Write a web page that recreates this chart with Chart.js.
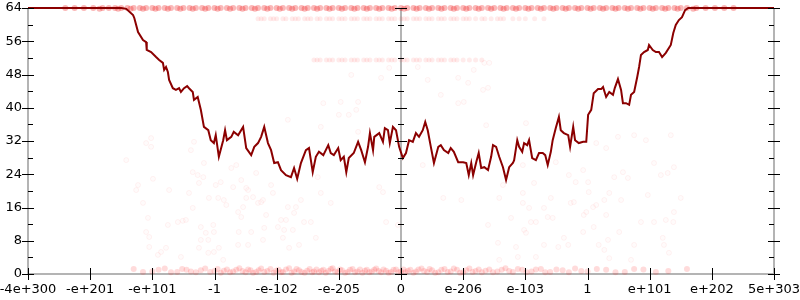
<!DOCTYPE html>
<html>
<head>
<meta charset="utf-8">
<script src="https://cdn.jsdelivr.net/npm/chart.js@4.4.0/dist/chart.umd.min.js"></script>
<style>
  html, body { margin: 0; padding: 0; background: #fff; }
  #wrap { width: 800px; height: 300px; }
</style>
</head>
<body>
<div id="wrap"><canvas id="chart" width="800" height="300"></canvas></div>
<script>
// Axis ticks (x positions are tick slots of the warped scale)
const xTickValues = [-6, -5, -4, -3, -2, -1, 0, 1, 2, 3, 4, 5, 6];
const xTickLabels = ['-4e+300', '-e+201', '-e+101', '-1', '-e-102', '-e-205', '0', 'e-206', 'e-103', '1', 'e+101', 'e+202', '5e+303'];
const yTickValues = [0, 8, 16, 24, 32, 40, 48, 56, 64];
const yMinorTicks = [4, 12, 20, 28, 36, 44, 52, 60];
const verticalAxes = [-6, 0, 6];

// Main curve
const lineX = [-6,-4.58,-4.50,-4.42,-4.31,-4.29,-4.23,-4.15,-4.10,-4.09,
  -4.02,-3.94,-3.89,-3.83,-3.81,-3.78,-3.75,-3.73,-3.67,-3.62,
  -3.57,-3.54,-3.49,-3.44,-3.41,-3.35,-3.33,-3.27,-3.22,-3.17,
  -3.10,-3.06,-3.01,-2.98,-2.93,-2.86,-2.83,-2.80,-2.73,-2.69,
  -2.62,-2.54,-2.49,-2.41,-2.36,-2.30,-2.25,-2.20,-2.14,-2.09,
  -2.04,-1.98,-1.93,-1.85,-1.77,-1.72,-1.67,-1.61,-1.53,-1.48,
  -1.42,-1.37,-1.32,-1.25,-1.17,-1.13,-1.08,-1.01,-0.97,-0.92,
  -0.88,-0.84,-0.76,-0.69,-0.64,-0.58,-0.53,-0.50,-0.45,-0.43,
  -0.35,-0.29,-0.26,-0.21,-0.18,-0.13,-0.08,-0.03,0.03,0.08,
  0.13,0.19,0.24,0.29,0.35,0.39,0.43,0.48,0.53,0.60,
  0.64,0.69,0.76,0.80,0.85,0.92,1.00,1.05,1.09,1.13,
  1.16,1.21,1.25,1.29,1.34,1.40,1.45,1.48,1.53,1.58,
  1.64,1.69,1.74,1.80,1.82,1.87,1.90,1.95,1.98,2.03,
  2.06,2.11,2.17,2.22,2.28,2.32,2.36,2.41,2.44,2.49,
  2.54,2.57,2.62,2.69,2.72,2.77,2.80,2.86,2.93,2.98,
  3.01,3.06,3.10,3.17,3.22,3.25,3.30,3.35,3.41,3.44,
  3.49,3.54,3.57,3.62,3.67,3.70,3.75,3.80,3.83,3.86,
  3.91,3.97,3.99,4.05,4.10,4.15,4.20,4.26,4.34,4.38,
  4.42,4.47,4.52,4.57,4.62,6];
const lineY = [64,64,64,63.8,62.3,61.6,58.2,56.3,55.8,53.9,
  53.4,52.2,51.5,50.8,49.1,49.8,48.6,46.7,44.7,44.3,
  44.7,43.8,44.7,45.2,44.7,43.8,41.9,42.6,39.5,35.4,
  34.6,32.2,31.5,33.4,28.2,32.2,34.6,32.2,33.0,34.2,
  33.4,35.4,30.3,28.6,30.6,31.5,33.0,35.4,31.5,29.8,
  26.7,26.9,25.0,23.8,23.3,25.5,22.9,26.7,29.8,30.3,
  24.5,28.2,29.4,28.6,31.0,29.1,28.6,30.3,27.4,28.2,
  24.5,27.9,29.1,31.8,29.8,26.9,30.6,33.9,29.8,33.0,
  33.9,31.8,35.1,34.6,31.5,35.4,34.6,30.6,27.9,29.1,
  32.2,31.8,33.9,33.0,34.6,36.6,34.6,30.6,26.7,30.6,
  31.0,29.8,29.1,30.3,29.4,26.9,26.9,26.7,23.8,26.7,
  23.8,26.9,29.1,25.5,25.7,25.0,28.2,31.0,30.6,28.2,
  25.7,22.6,25.7,26.7,27.4,32.2,30.6,29.4,31.5,31.0,
  32.2,27.9,27.4,29.1,29.1,28.6,26.2,29.4,32.2,35.1,
  37.8,34.6,33.9,33.4,30.6,35.4,32.2,31.5,31.8,31.8,
  38.3,39.5,43.5,44.5,44.5,45.0,42.6,43.8,43.1,44.8,
  46.9,44.3,41.1,41.1,40.7,43.1,43.8,47.4,49.8,52.7,
  53.4,53.9,55.1,53.9,53.4,53.4,52.2,53.2,55.1,58.0,
  59.9,61.1,61.8,63.5,64,64];

// Dense rows of samples
const band64X = [-5.4,-5.25,-5.1,-4.95,-4.8,-4.7,-4.6,-4.5,-4.4,-4.3,-4.2,-4.1,-4.0,-3.9,-3.8,-3.7,-3.6,-3.5,-3.4,-3.3,-3.2,-3.1,-3.0,-2.9,-2.8,-2.7,-2.6,-2.5,-2.4,-2.3,-2.2,-2.1,-2.0,-1.9,-1.8,-1.7,-1.6,-1.5,-1.4,-1.3,-1.2,-1.1,-1.0,-0.9,-0.8,-0.7,-0.6,-0.5,-0.4,-0.3,-0.2,-0.1,0,0.1,0.2,0.3,0.4,0.5,0.6,0.7,0.8,0.9,1.0,1.1,1.2,1.3,1.4,1.5,1.6,1.7,1.8,1.9,2.0,2.1,2.2,2.3,2.4,2.5,2.6,2.7,2.8,2.9,3.0,3.1,3.2,3.3,3.4,3.5,3.6,3.7,3.8,3.9,4.0,4.1,4.2,4.3,4.4,4.5,4.6,4.75,4.9,5.05,5.2,5.35];
const band64X2 = [-4.85,-4.55,-4.35,-4.15,-3.95,-3.75,-3.55,-3.35,-3.15,-2.95,-2.75,-2.55,-2.35,-2.15,-1.95,-1.75,-1.55,-1.35,-1.15,-0.95,-0.75,-0.55,-0.35,-0.15,0.05,0.25,0.45,0.65,0.85,1.05,1.25,1.45,1.65,1.85,2.05,2.25,2.45,2.65,2.85,3.05,3.25,3.45,3.65,3.85,4.05,4.25,4.45,4.7];
const band61X = [-2.3,-2.25,-2.2,-2.1,-2.05,-2.0,-1.9,-1.85,-1.75,-1.7,-1.65,-1.55,-1.5,-1.45,-1.35,-1.3,-1.2,-1.15,-1.1,-1.0,-0.95,-0.9,-0.8,-0.75,-0.7,-0.6,-0.55,-0.5,-0.4,-0.35,-0.3,-0.2,-0.15,-0.1,0,0.05,0.1,0.2,0.25,0.3,0.4,0.45,0.5,0.6,0.65,0.7,0.8,0.85,0.9,1.0,1.05,1.1,1.2,1.3,1.35,1.45,1.55,1.6,1.65,1.8,1.9,2.0,2.15,2.3];
const band51X = [-1.4,-1.35,-1.3,-1.2,-1.15,-1.1,-1.0,-0.95,-0.9,-0.8,-0.75,-0.7,-0.6,-0.55,-0.5,-0.4,-0.35,-0.3,-0.2,-0.15,-0.1,0,0.05,0.1,0.2,0.25,0.3,0.4,0.45,0.5,0.6,0.65,0.7,0.8,0.85,0.9,1.0,1.1,1.2,1.3];
const bandBottom = [[-4.3,1.2],[-4.15,0.5],[-4.0,0.6],[-3.9,1.0],[-3.8,1.3],[-3.7,0.4],[-3.6,0.5],[-3.52,1.2],[-3.45,1.0],[-3.38,0.6],[-3.3,0.4],[-3.22,0.9],[-3.15,1.3],[-3.07,0.5],[-3.0,0.7],[-2.95,1.2],[-2.9,0.3],[-2.85,0.8],[-2.8,1.1],[-2.75,0.4],[-2.7,0.6],[-2.65,1.0],[-2.6,1.4],[-2.55,0.7],[-2.5,0.4],[-2.46,1.1],[-2.42,0.9],[-2.38,0.3],[-2.33,0.5],[-2.29,0.9],[-2.25,1.3],[-2.2,0.5],[-2.15,0.7],[-2.1,1.2],[-2.05,0.3],[-2.01,0.8],[-1.97,1.0],[-1.93,0.4],[-1.9,0.5],[-1.85,1.1],[-1.8,1.4],[-1.76,0.3],[-1.72,0.6],[-1.68,1.2],[-1.64,0.9],[-1.6,0.5],[-1.55,0.3],[-1.51,0.8],[-1.47,1.2],[-1.43,0.4],[-1.4,0.6],[-1.36,1.1],[-1.32,0.4],[-1.28,0.8],[-1.25,1.0],[-1.21,0.3],[-1.17,0.7],[-1.13,1.2],[-1.1,1.4],[-1.06,0.6],[-1.02,0.4],[-0.98,1.1],[-0.95,0.9],[-0.9,0.3],[-0.86,0.5],[-0.82,1.0],[-0.78,1.2],[-0.74,0.4],[-0.7,0.6],[-0.66,1.1],[-0.62,0.3],[-0.58,0.8],[-0.55,1.0],[-0.51,0.4],[-0.47,0.6],[-0.43,1.0],[-0.4,1.3],[-0.36,0.7],[-0.32,0.4],[-0.28,1.1],[-0.24,0.8],[-0.2,0.3],[-0.16,0.5],[-0.12,1.0],[-0.08,1.1],[-0.04,0.4],[0,0.6],[0.04,1.1],[0.07,0.4],[0.11,0.8],[0.15,1.0],[0.2,0.3],[0.24,0.6],[0.28,1.1],[0.33,1.3],[0.37,0.7],[0.42,0.5],[0.46,1.2],[0.5,0.9],[0.55,0.3],[0.6,0.4],[0.65,1.0],[0.7,1.2],[0.75,0.5],[0.8,0.6],[0.85,1.3],[0.9,1.0],[0.95,0.3],[1.0,0.4],[1.05,0.9],[1.1,1.3],[1.15,0.5],[1.2,0.7],[1.25,1.1],[1.3,0.4],[1.36,0.8],[1.42,1.1],[1.48,0.4],[1.55,0.6],[1.62,1.0],[1.68,1.4],[1.74,0.7],[1.8,0.5],[1.88,1.2],[1.95,1.0],[2.02,0.4],[2.1,0.6],[2.17,1.1],[2.25,1.2],[2.32,0.4],[2.4,0.5],[2.5,1.1],[2.6,0.9],[2.7,0.4],[2.8,1.3],[2.9,0.7],[3.0,0.6],[3.15,1.2],[3.3,1.0],[3.45,0.4],[3.6,0.5],[3.75,1.2],[3.9,1.1],[4.1,0.5],[4.3,0.7],[4.6,1.2]];

// Sparse faint samples
const scatterPts = [[-4.26,20.2],[-4.23,21.4],[-4.15,17.1],[-4.07,13.5],[-4.10,10.1],[-4.05,8.9],[-4.05,6.5],[-3.99,22.9],[-3.91,4.6],[-3.86,5.3],
  [-3.78,6.3],[-3.75,11.8],[-3.73,20.2],[-3.59,12.5],[-3.51,12.8],[-3.46,13.0],[-3.54,4.1],[-3.41,19.5],[-3.35,24.5],[-3.35,15.9],
  [-3.27,23.8],[-3.25,21.9],[-3.22,11.3],[-3.22,8.2],[-3.25,6.3],[-3.17,26.7],[-3.18,23.3],[-3.14,9.9],[-3.10,8.2],[-3.02,11.8],
  [-3.01,10.1],[-3.09,18.3],[-2.98,21.4],[-2.94,18.3],[-2.90,22.1],[-2.85,17.8],[-2.81,16.6],[-3.01,5.3],[-2.93,6.3],[-3.10,5.1],
  [-2.86,3.4],[-2.73,25.5],[-2.70,20.9],[-2.65,26.2],[-2.62,14.9],[-2.62,7.0],[-2.61,10.1],[-2.57,13.7],[-2.57,22.6],[-2.54,16.1],
  [-2.49,20.7],[-2.46,20.2],[-2.49,18.3],[-2.46,7.0],[-2.41,10.1],[-2.38,18.5],[-2.33,24.3],[-2.30,17.1],[-2.25,17.3],[-2.22,17.8],
  [-2.22,8.2],[-2.20,11.1],[-2.17,14.2],[-2.09,21.4],[-2.06,19.5],[-1.98,11.3],[-1.93,13.0],[-1.90,8.7],[-1.88,10.6],[-1.85,13.0],
  [-1.82,16.1],[-1.80,6.3],[-1.74,10.6],[-1.69,16.1],[-1.72,14.7],[-1.64,7.0],[-1.61,17.8],[-1.56,12.5],[-1.45,12.5],[-1.37,8.7],
  [-1.34,23.3],[-1.29,19.5],[-1.13,17.1],[-0.35,20.9],[-0.29,19.7],[-0.24,12.5],[-0.05,11.8],
  [0.35,26.2],[0.68,18.3],[0.97,17.8],[1.40,11.8],[1.58,18.3],[1.56,7.5],[1.58,3.4],[1.77,13.5],[1.85,6.5],[1.88,4.1],
  [1.96,26.2],[1.96,19.5],[1.96,17.1],[1.98,10.6],[2.01,9.9],[2.09,12.5],[2.06,15.9],[2.14,21.9],[2.17,12.5],[2.17,4.1],
  [2.30,15.9],[2.36,13.7],[2.30,7.0],[2.41,18.3],[2.44,13.5],[2.53,6.5],[2.62,8.7],[2.69,7.0],[2.70,23.8],[2.73,17.1],
  [2.78,17.3],[2.81,22.1],[2.93,25.0],[2.93,10.1],[2.94,14.2],[2.98,14.9],[3.01,22.1],[3.02,19.7],[3.09,16.1],[3.10,11.3],
  [3.14,16.6],[3.18,7.0],[3.27,17.8],[3.27,5.8],[3.30,14.2],[3.33,8.2],[3.35,3.8],[3.35,19.5],[3.43,23.3],[3.51,10.1],
  [3.54,17.8],[3.57,24.5],[3.65,23.1],[3.70,3.4],[3.75,7.0],[3.86,12.5],[3.97,19.0],[4.07,12.5],[4.18,23.8],[4.21,8.7],
  [4.23,7.0],[4.26,13.0],[4.31,5.1],[4.38,12.5],[4.39,25.7],[4.39,14.9],[4.50,18.3],[4.29,24.3],[4.07,26.7],
  [-4.10,31.5],[-4.02,32.7],[-4.02,30.6],[-4.42,27.4],[-3.33,31.8],[-3.38,29.8],[-1.82,37.1],[-1.29,35.4],[-1.25,41.1],[-0.97,41.4],
  [-0.69,41.4],[-1.00,38.3],[-0.84,38.3],[-0.72,39.5],[-0.69,34.2],[0.92,41.1],[1.01,41.4],[1.37,35.8],[2.01,36.3],[2.49,26.9],
  [1.64,21.4],[3.49,33.0],[3.75,33.4],[4.34,33.4],[3.94,32.2],[3.14,31.5],[3.30,30.3],
  [-0.19,49.6],[0.27,49.8],[1.17,49.1],[1.34,50.8],[1.42,50.8],[0.43,46.7],[-0.32,47.2],[0.92,47.2],[1.08,46.0],[1.32,44.3],
  [1.40,44.8],[0.64,43.1],[-0.80,47.9]];

const toPts = (xs, y) => xs.map(x => ({ x, y }));

Chart.defaults.font.family = "'DejaVu Sans', sans-serif";
Chart.defaults.font.size = 13;
Chart.defaults.color = '#000';

// Grey axis lines: bottom, plus vertical ones at left, centre and right
function drawAxisLines(chart) {
  const { ctx, scales: { x, y } } = chart;
  const y0 = y.getPixelForValue(0), y1 = y.getPixelForValue(64);
  ctx.save();
  ctx.strokeStyle = '#b4b4b4';
  ctx.lineWidth = 2;
  ctx.beginPath();
  ctx.moveTo(x.getPixelForValue(-6), y0);
  ctx.lineTo(x.getPixelForValue(6), y0);
  verticalAxes.forEach(v => {
    const px = x.getPixelForValue(v);
    ctx.moveTo(px, y0);
    ctx.lineTo(px, y1);
  });
  ctx.stroke();
  ctx.restore();
}

// Black tick marks crossing the axis lines
function drawTickMarks(chart) {
  const { ctx, scales: { x, y } } = chart;
  const y0 = Math.round(y.getPixelForValue(0));
  ctx.save();
  ctx.strokeStyle = '#000';
  ctx.lineWidth = 1;
  ctx.beginPath();
  xTickValues.forEach(v => {
    const px = Math.round(x.getPixelForValue(v)) + 0.5;
    ctx.moveTo(px, y0 - 6);
    ctx.lineTo(px, y0 + 6);
  });
  verticalAxes.forEach((a, i) => {
    const px = Math.round(x.getPixelForValue(a));
    yTickValues.forEach(v => {
      const py = Math.round(y.getPixelForValue(v)) + 0.5;
      ctx.moveTo(px - 6, py);
      ctx.lineTo(px + 6, py);
    });
    yMinorTicks.forEach(v => {
      const py = Math.round(y.getPixelForValue(v)) + 0.5;
      if (i === 0) { ctx.moveTo(px, py); ctx.lineTo(px + 5, py); }
      else if (i === 1) { ctx.moveTo(px - 3, py); ctx.lineTo(px + 3, py); }
      else { ctx.moveTo(px - 5, py); ctx.lineTo(px, py); }
    });
  });
  ctx.stroke();
  ctx.restore();
}

const axisPlugin = {
  id: 'axisPlugin',
  beforeDatasetsDraw: chart => drawAxisLines(chart),
  afterDraw: chart => drawTickMarks(chart)
};

new Chart(document.getElementById('chart'), {
  type: 'line',
  data: {
    datasets: [{
      type: 'line',
      data: lineX.map((x, i) => ({ x, y: lineY[i] })),
      borderColor: '#8b0000',
      borderWidth: 2,
      pointRadius: 0,
      tension: 0,
      order: 0,
      clip: 4
    }, {
      type: 'scatter',
      data: toPts(band64X, 64).concat(toPts(band64X2, 63.8)),
      pointRadius: 3,
      borderWidth: 0,
      backgroundColor: 'rgba(240, 20, 20, 0.3)',
      order: 1,
      clip: false
    }, {
      type: 'scatter',
      data: toPts(band61X, 61.4).concat(toPts(band51X, 51.5)),
      pointRadius: 2.5,
      borderWidth: 0,
      backgroundColor: 'rgba(255, 0, 0, 0.08)',
      order: 2,
      clip: false
    }, {
      type: 'scatter',
      data: bandBottom.map(p => ({ x: p[0], y: p[1] })),
      pointRadius: 3,
      borderWidth: 0,
      backgroundColor: 'rgba(255, 0, 0, 0.14)',
      order: 3,
      clip: false
    }, {
      type: 'scatter',
      data: scatterPts.map(p => ({ x: p[0], y: p[1] })),
      pointRadius: 2.5,
      borderWidth: 1,
      borderColor: 'rgba(255, 0, 0, 0.05)',
      backgroundColor: 'rgba(255, 0, 0, 0.015)',
      order: 4,
      clip: false
    }]
  },
  options: {
    responsive: false,
    animation: false,
    events: [],
    layout: { padding: { top: 8, right: 26, left: 0, bottom: 0 } },
    plugins: { legend: { display: false }, tooltip: { enabled: false } },
    scales: {
      x: {
        type: 'linear',
        min: -6,
        max: 6,
        grid: { display: false, drawTicks: false },
        border: { display: false },
        afterFit: s => { s.height = 26; s.paddingLeft = 0; s.paddingRight = 0; },
        ticks: {
          stepSize: 1,
          autoSkip: false,
          maxRotation: 0,
          padding: 8,
          callback: v => xTickLabels[xTickValues.indexOf(v)]
        }
      },
      y: {
        min: 0,
        max: 64,
        grid: { display: false, drawTicks: false },
        border: { display: false },
        afterFit: s => { s.width = 28; s.paddingTop = 0; s.paddingBottom = 0; },
        ticks: { stepSize: 8, padding: 6 }
      }
    }
  },
  plugins: [axisPlugin]
});
</script>
</body>
</html>
